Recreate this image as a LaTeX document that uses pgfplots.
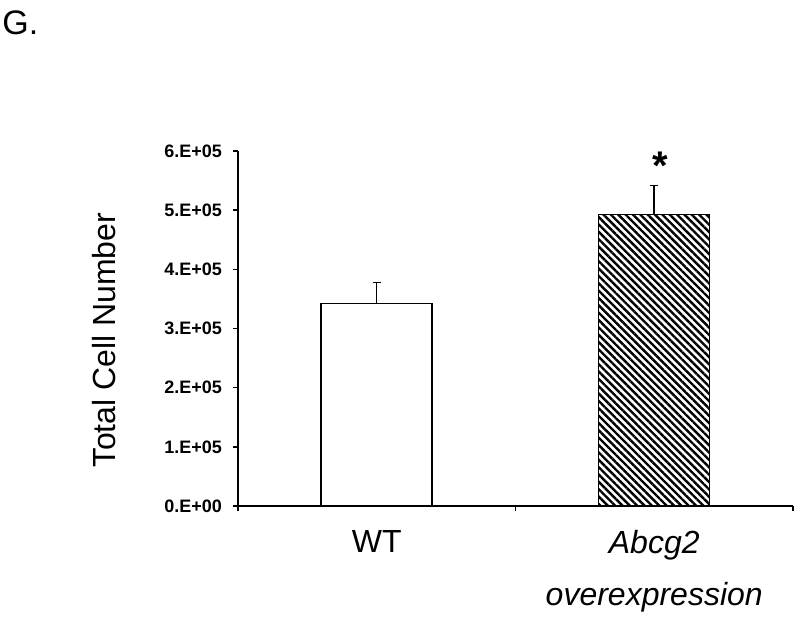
\documentclass[border=0pt]{standalone}
\usepackage{pgfplots}
\pgfplotsset{compat=1.18}
\usepackage{fontspec}
\setmainfont{Liberation Sans}
\usetikzlibrary{patterns.meta}
\begin{document}
\begin{tikzpicture}
\path (-119pt,-51.5pt) rectangle (281pt,253pt);
\node[anchor=west,inner sep=0pt,font=\fontsize{17}{19}\selectfont] at (-118pt,241.5pt) {G.};
\begin{axis}[
  at={(0,0)}, anchor=south west,
  scale only axis, width=277.5pt, height=177.5pt,
  xmin=-0.5, xmax=1.5, ymin=0, ymax=6e5,
  axis x line*=bottom, axis y line*=left,
  axis line style={-, line width=0.75pt},
  xtick={0,1}, xticklabels={WT\\\mbox{},{\itshape Abcg2}\\{\itshape overexpression}},
  xticklabel style={align=center, font=\fontsize{16}{26}\selectfont, yshift=-6pt},
  major x tick style={draw=none},
  minor xtick={-0.5,0.5,1.5},
  minor tick length=2.5pt,
  ytick={0,1e5,2e5,3e5,4e5,5e5,6e5},
  yticklabels={0.E+00,1.E+05,2.E+05,3.E+05,4.E+05,5.E+05,6.E+05},
  yticklabel style={font=\bfseries\fontsize{9}{10}\selectfont, xshift=-2pt},
  scaled y ticks=false,
  tick align=outside, major tick length=2.5pt,
  tick style={line width=0.75pt, black},
  ylabel={Total Cell Number},
  ylabel style={at={(axis description cs:-0.2414,0.468)}, anchor=center, font=\fontsize{16}{19}\selectfont},
  ybar, bar width=55.5pt, bar shift=0pt,
  clip=false,
]
\addplot[draw=black, fill=white, line width=0.75pt,
  error bars/.cd, y dir=plus, y explicit,
  error bar style={line width=0.75pt, black},
  error mark options={rotate=90, mark size=2pt, line width=0.75pt, black}]
  coordinates {(0,3.42e5) +- (0,0.36e5)};
\addplot[draw=black, pattern={Lines[angle=-45,distance=2.6pt,line width=1.2pt]}, line width=0.75pt,
  error bars/.cd, y dir=plus, y explicit,
  error bar style={line width=0.75pt, black},
  error mark options={rotate=90, mark size=2pt, line width=0.75pt, black}]
  coordinates {(1,4.93e5) +- (0,0.49e5)};
\node[font=\bfseries\fontsize{20}{20}\selectfont] at (axis cs:1.02,5.75e5) {*};
\end{axis}
\end{tikzpicture}
\end{document}
